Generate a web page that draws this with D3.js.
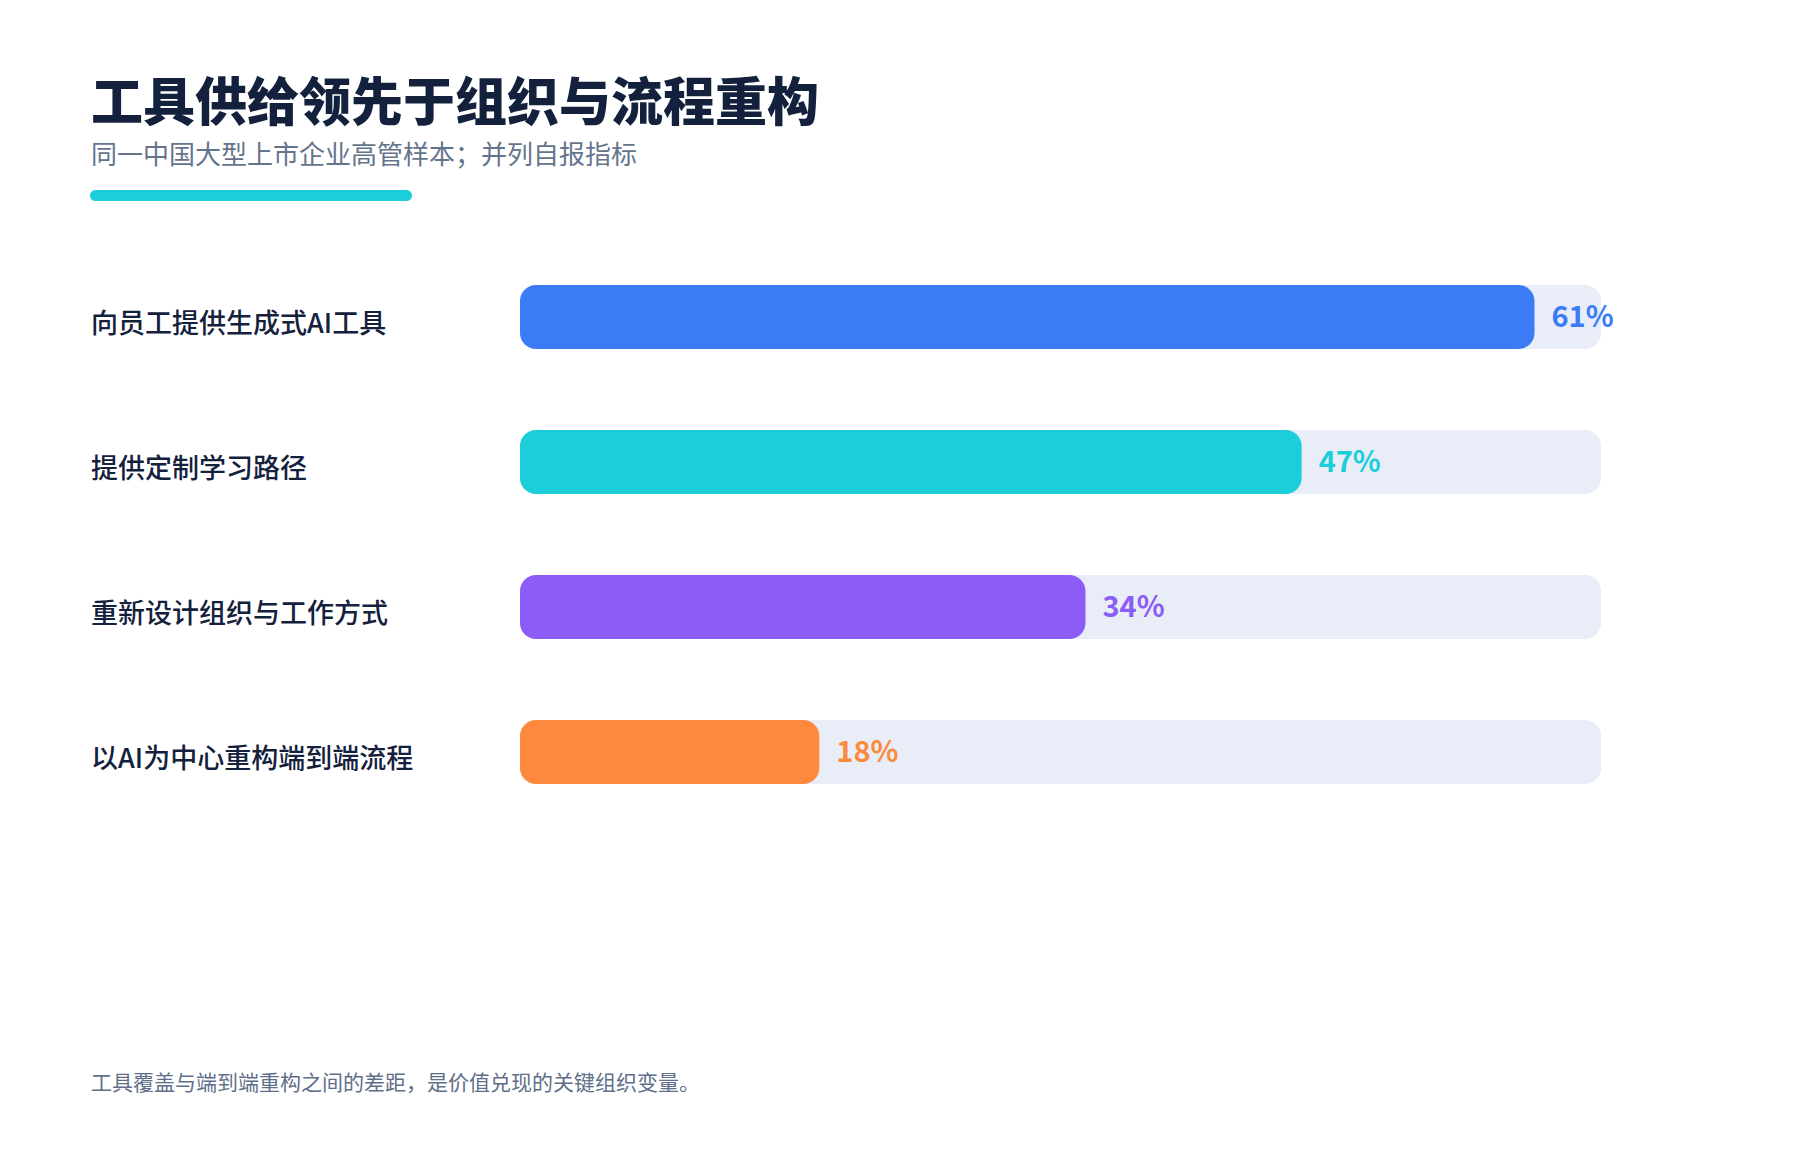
<!DOCTYPE html>
<html>
<head>
<meta charset="utf-8">
<script src="https://cdn.jsdelivr.net/npm/d3@7"></script>
<style>
  body { margin: 0; background: #fff; }
  text { font-family: "Noto Sans CJK SC", "Noto Sans", sans-serif; }
</style>
</head>
<body>
<svg id="chart"></svg>
<script>
// data
var categories = ["向员工提供生成式AI工具", "提供定制学习路径", "重新设计组织与工作方式", "以AI为中心重构端到端流程"];
var values = [61, 47, 34, 18];
var colors = ["#3b7bf6", "#1ccdda", "#8b5cf6", "#fd8a3c"];
var domainMax = 65;

var W = 1800, H = 1160;
var svg = d3.select("#chart").attr("width", W).attr("height", H);

// title block
svg.append("text")
  .attr("x", 91).attr("y", 121)
  .attr("font-size", 52).attr("font-weight", 900)
  .attr("fill", "#14213d")
  .text("工具供给领先于组织与流程重构");

svg.append("text")
  .attr("x", 91).attr("y", 164)
  .attr("font-size", 26).attr("font-weight", 400)
  .attr("fill", "#64748b")
  .text("同一中国大型上市企业高管样本；并列自报指标");

svg.append("rect")
  .attr("x", 90).attr("y", 190)
  .attr("width", 322).attr("height", 11)
  .attr("rx", 5.5)
  .attr("fill", "#1ccdda");

// scales: bars 64px tall, 145px apart
var x = d3.scaleLinear().domain([0, domainMax]).range([520, 1601]);
var y = d3.scaleBand().domain(categories).range([285, 285 + 145 * 3 + 64]).paddingInner(81 / 145);

var rows = svg.selectAll(".row")
  .data(categories)
  .enter()
  .append("g")
  .attr("class", "row");

// track
rows.append("rect")
  .attr("x", x(0))
  .attr("y", function (d) { return y(d); })
  .attr("width", x(domainMax) - x(0))
  .attr("height", y.bandwidth())
  .attr("rx", 16)
  .attr("fill", "#e8edf8");

// value bars
rows.append("rect")
  .attr("x", x(0))
  .attr("y", function (d) { return y(d); })
  .attr("width", function (d, i) { return x(values[i]) - x(0); })
  .attr("height", y.bandwidth())
  .attr("rx", 16)
  .attr("fill", function (d, i) { return colors[i]; });

// category labels (sit a little below bar centre)
rows.append("text")
  .attr("x", 91)
  .attr("y", function (d) { return y(d) + y.bandwidth() / 2 + 6; })
  .attr("dy", "0.36em")
  .attr("font-size", 27).attr("font-weight", 500)
  .attr("fill", "#14213d")
  .text(function (d) { return d; });

// value labels
rows.append("text")
  .attr("x", function (d, i) { return x(values[i]) + 17; })
  .attr("y", function (d) { return y(d) + y.bandwidth() / 2; })
  .attr("dy", "0.36em")
  .attr("font-size", 29).attr("font-weight", 700)
  .attr("fill", function (d, i) { return colors[i]; })
  .text(function (d, i) { return values[i] + "%"; });

// footnote
svg.append("text")
  .attr("x", 91).attr("y", 1090)
  .attr("font-size", 21)
  .attr("fill", "#5f6f8a")
  .text("工具覆盖与端到端重构之间的差距，是价值兑现的关键组织变量。");
</script>
</body>
</html>
